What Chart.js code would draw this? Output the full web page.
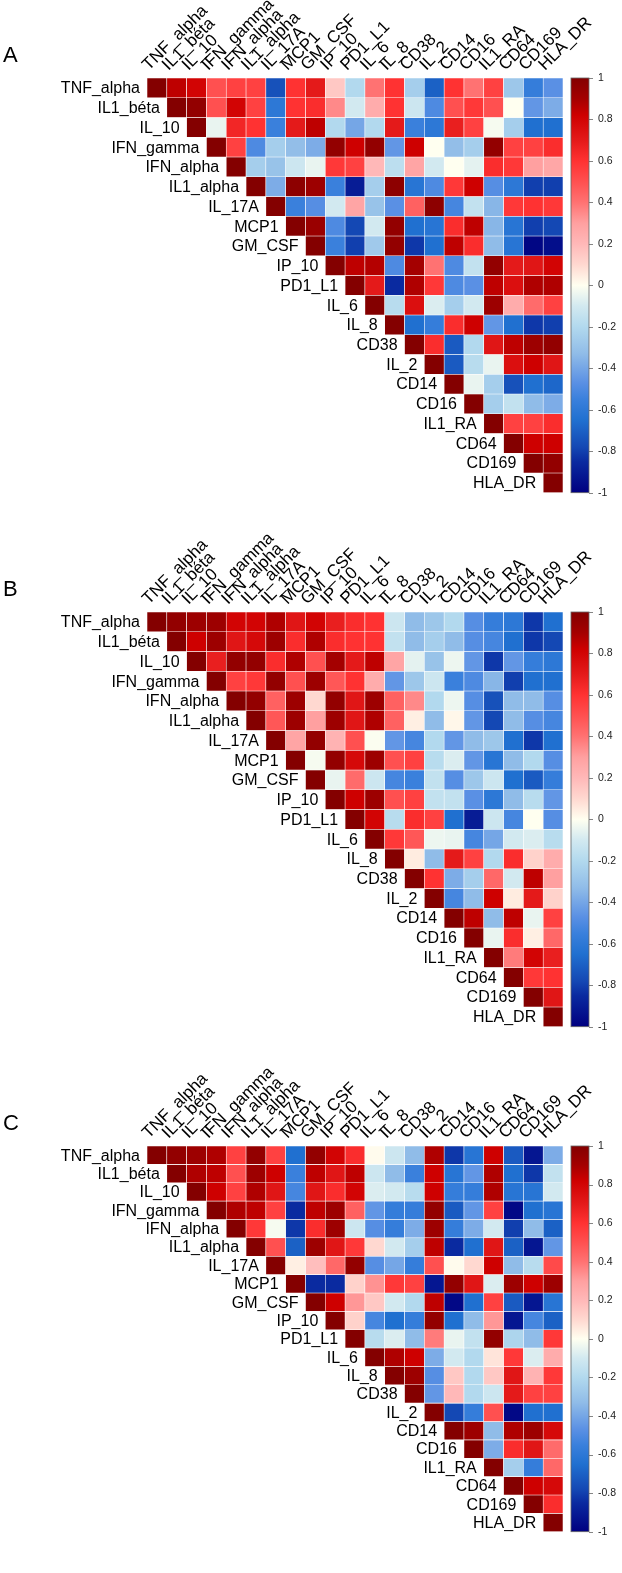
<!DOCTYPE html>
<html>
<head>
<meta charset="utf-8">
<script src="https://cdn.jsdelivr.net/npm/chart.js@4.4.1/dist/chart.umd.min.js"></script>
<style>
  body { margin: 0; background: #fff; }
  #wrap { position: relative; width: 622px; height: 1573px; }
  canvas { position: absolute; left: 0; }
</style>
</head>
<body>
<div id="wrap">
  <canvas id="panel-a" width="622" height="534" style="top:0px"></canvas>
  <canvas id="panel-b" width="622" height="534" style="top:534px"></canvas>
  <canvas id="panel-c" width="622" height="505" style="top:1068px"></canvas>
</div>
<script>
"use strict";

var variables = ["TNF_alpha", "IL1_béta", "IL_10", "IFN_gamma", "IFN_alpha", "IL1_alpha", "IL_17A",
  "MCP1", "GM_CSF", "IP_10", "PD1_L1", "IL_6", "IL_8", "CD38", "IL_2", "CD14", "CD16",
  "IL1_RA", "CD64", "CD169", "HLA_DR"];

var colorbarTicks = [1, 0.8, 0.6, 0.4, 0.2, 0, -0.2, -0.4, -0.6, -0.8, -1];

// each row starts at the diagonal (row i holds columns i..20)
var corrA = [
  [1, 0.85, 0.8, 0.5, 0.55, 0.55, -0.75, 0.6, 0.7, 0.15, -0.2, 0.4, 0.6, -0.25, -0.7, 0.6, 0.4, 0.55, -0.28, -0.57, -0.47],
  [1, 0.95, 0.5, 0.8, 0.55, -0.6, 0.6, 0.62, 0.35, -0.1, 0.25, 0.6, -0.12, -0.5, 0.5, 0.58, 0.5, 0, -0.45, -0.38],
  [1, -0.05, 0.65, 0.6, -0.55, 0.7, 0.85, -0.2, -0.4, -0.2, 0.7, -0.55, -0.6, 0.68, 0.55, -0.02, -0.25, -0.65, -0.65],
  [1, 0.55, -0.5, -0.25, -0.32, -0.38, 0.95, 0.82, 0.95, -0.45, 0.82, 0, -0.32, -0.25, 0.95, 0.55, 0.55, 0.62],
  [1, -0.25, -0.3, -0.12, -0.05, 0.58, 0.55, 0.2, -0.17, 0.28, -0.1, 0, -0.06, 0.62, 0.58, 0.3, 0.27],
  [1, -0.38, 0.97, 0.92, -0.55, -0.9, -0.25, 0.97, -0.62, -0.5, 0.58, 0.82, -0.48, -0.6, -0.8, -0.8],
  [1, -0.55, -0.48, -0.1, 0.28, -0.3, -0.47, 0.45, 0.97, -0.52, -0.15, -0.35, 0.58, 0.6, 0.58],
  [1, 0.93, -0.5, -0.78, -0.1, 0.95, -0.65, -0.62, 0.62, 0.85, -0.35, -0.62, -0.8, -0.78],
  [1, -0.55, -0.8, -0.27, 0.95, -0.82, -0.65, 0.85, 0.62, -0.33, -0.62, -0.98, -0.95],
  [1, 0.85, 0.87, -0.5, 0.9, 0.4, -0.5, -0.15, 0.95, 0.7, 0.72, 0.8],
  [1, 0.7, -0.85, 0.88, 0.58, -0.5, -0.47, 0.85, 0.75, 0.88, 0.88],
  [1, -0.18, 0.75, -0.08, -0.25, -0.1, 0.92, 0.25, 0.42, 0.55],
  [1, -0.65, -0.57, 0.62, 0.82, -0.45, -0.65, -0.82, -0.8],
  [1, 0.62, -0.72, -0.2, 0.72, 0.85, 0.92, 0.95],
  [1, -0.72, -0.18, -0.05, 0.75, 0.82, 0.72],
  [1, -0.05, -0.25, -0.75, -0.65, -0.68],
  [1, -0.25, -0.15, -0.33, -0.38],
  [1, 0.55, 0.55, 0.62],
  [1, 0.82, 0.82],
  [1, 0.95],
  [1]
];

var corrB = [
  [1, 0.95, 0.92, 0.92, 0.8, 0.8, 0.88, 0.72, 0.8, 0.68, 0.62, 0.6, -0.12, -0.33, -0.28, -0.2, -0.48, -0.57, -0.6, -0.82, -0.65],
  [1, 0.82, 0.92, 0.72, 0.78, 0.92, 0.62, 0.88, 0.62, 0.6, 0.6, -0.15, -0.33, -0.25, -0.33, -0.48, -0.52, -0.65, -0.82, -0.78],
  [1, 0.68, 0.95, 0.95, 0.62, 0.88, 0.5, 0.9, 0.7, 0.85, 0.28, -0.06, -0.3, -0.04, -0.45, -0.82, -0.45, -0.57, -0.6],
  [1, 0.55, 0.58, 0.95, 0.5, 0.92, 0.48, 0.6, 0.25, -0.45, -0.28, -0.12, -0.55, -0.5, -0.35, -0.8, -0.65, -0.65],
  [1, 0.95, 0.45, 0.92, 0.1, 0.95, 0.72, 0.92, 0.45, 0.35, -0.2, -0.04, -0.48, -0.75, -0.33, -0.33, -0.48],
  [1, 0.48, 0.92, 0.3, 0.92, 0.72, 0.88, 0.45, 0.04, -0.33, 0.02, -0.45, -0.78, -0.33, -0.48, -0.52],
  [1, 0.28, 0.95, 0.22, 0.5, -0.01, -0.45, -0.52, -0.2, -0.45, -0.33, -0.28, -0.65, -0.82, -0.65],
  [1, -0.02, 0.95, 0.78, 0.92, 0.5, 0.55, -0.18, -0.08, -0.45, -0.62, -0.33, -0.2, -0.48],
  [1, -0.05, 0.42, -0.12, -0.52, -0.55, -0.15, -0.48, -0.28, -0.12, -0.65, -0.72, -0.57],
  [1, 0.82, 0.92, 0.5, 0.55, -0.15, -0.15, -0.47, -0.6, -0.33, -0.18, -0.45],
  [1, 0.8, -0.18, 0.62, 0.55, -0.65, -0.9, -0.12, -0.52, 0, -0.48],
  [1, 0.58, 0.48, -0.04, -0.05, -0.52, -0.4, -0.1, -0.08, -0.18],
  [1, 0.05, -0.33, 0.7, 0.55, -0.2, 0.62, 0.12, 0.25],
  [1, 0.6, -0.38, -0.25, 0.43, -0.1, 0.85, 0.3],
  [1, -0.52, -0.33, 0.82, 0.05, 0.7, 0.12],
  [1, 0.85, -0.33, 0.85, -0.05, 0.55],
  [1, -0.05, 0.62, 0.04, 0.43],
  [1, 0.38, 0.8, 0.68],
  [1, 0.58, 0.6],
  [1, 0.72],
  [1]
];

var corrC = [
  [1, 0.95, 0.92, 0.88, 0.55, 0.95, 0.55, -0.65, 0.95, 0.8, 0.62, 0.01, -0.12, -0.33, 0.88, -0.82, -0.62, 0.82, -0.72, -0.92, -0.38],
  [1, 0.88, 0.85, 0.5, 0.92, 0.82, -0.55, 0.85, 0.72, 0.85, -0.12, -0.33, -0.55, 0.82, -0.62, -0.45, 0.88, -0.65, -0.82, -0.15],
  [1, 0.82, 0.55, 0.88, 0.72, -0.52, 0.72, 0.62, 0.8, -0.08, -0.1, -0.18, 0.82, -0.57, -0.57, 0.88, -0.62, -0.62, -0.1],
  [1, 0.88, 0.85, 0.55, -0.85, 0.85, 0.92, 0.45, -0.45, -0.57, -0.57, 0.95, -0.72, -0.45, 0.55, -0.97, -0.65, -0.62],
  [1, 0.58, -0.02, -0.82, 0.62, 0.92, -0.12, -0.48, -0.57, -0.38, 0.92, -0.57, -0.38, -0.1, -0.8, -0.33, -0.7],
  [1, 0.5, -0.7, 0.92, 0.72, 0.58, 0.1, -0.1, -0.25, 0.85, -0.85, -0.65, 0.72, -0.7, -0.92, -0.45],
  [1, 0.04, 0.18, 0.43, 0.95, -0.48, -0.4, -0.57, 0.5, 0.01, 0.1, 0.82, -0.33, -0.18, 0.52],
  [1, -0.85, -0.85, 0.12, 0.33, 0.58, 0.55, -0.92, 0.95, 0.72, -0.08, 0.92, 0.82, 0.92],
  [1, 0.82, 0.32, 0.15, -0.1, -0.2, 0.85, -0.97, -0.65, 0.55, -0.72, -0.92, -0.62],
  [1, 0.12, -0.52, -0.65, -0.57, 0.95, -0.65, -0.33, 0.32, -0.92, -0.52, -0.7],
  [1, -0.18, -0.08, -0.33, 0.38, -0.05, -0.15, 0.95, -0.22, -0.33, 0.58],
  [1, 0.88, 0.82, -0.38, -0.1, -0.2, 0.07, 0.58, -0.08, 0.25],
  [1, 0.92, -0.48, 0.15, -0.2, 0.15, 0.72, 0.22, 0.58],
  [1, -0.45, 0.2, -0.2, -0.12, 0.7, 0.55, 0.55],
  [1, -0.78, -0.57, 0.5, -0.97, -0.65, -0.65],
  [1, 0.92, -0.33, 0.88, 0.92, 0.78],
  [1, -0.38, 0.62, 0.72, 0.42],
  [1, -0.25, -0.57, 0.43],
  [1, 0.82, 0.78],
  [1, 0.62],
  [1]
];

// blue - ivory - red ramp like the original colour key
var colorStops = [
  [-1, "#000080"], [-0.85, "#0A2AA0"], [-0.78, "#1448B4"], [-0.65, "#2070D0"],
  [-0.55, "#3A80DC"], [-0.47, "#5A90E4"], [-0.33, "#90BCE8"], [-0.2, "#B2D9EE"],
  [-0.1, "#D2E9F0"], [0, "#FFFFF0"], [0.1, "#FFD8D0"], [0.2, "#FFB8B8"],
  [0.3, "#FFA0A0"], [0.4, "#FF7272"], [0.5, "#FF5050"], [0.6, "#FF3232"],
  [0.7, "#E41A1A"], [0.82, "#CE0000"], [0.9, "#A40000"], [0.96, "#900000"], [1, "#840000"]
];

var FONT = '"Liberation Sans", Arial, sans-serif';

function hexToRgb(h) {
  return [parseInt(h.substr(1, 2), 16), parseInt(h.substr(3, 2), 16), parseInt(h.substr(5, 2), 16)];
}

function corrColor(v) {
  for (var k = 1; k < colorStops.length; k++) {
    if (v <= colorStops[k][0]) {
      var a = colorStops[k - 1], b = colorStops[k];
      var t = (v - a[0]) / (b[0] - a[0]);
      var ca = hexToRgb(a[1]), cb = hexToRgb(b[1]);
      return "rgb(" + Math.round(ca[0] + (cb[0] - ca[0]) * t) + "," +
        Math.round(ca[1] + (cb[1] - ca[1]) * t) + "," +
        Math.round(ca[2] + (cb[2] - ca[2]) * t) + ")";
    }
  }
  return colorStops[colorStops.length - 1][1];
}

function buildDatasets(corr) {
  var sets = [];
  for (var i = 0; i < corr.length; i++) {
    var data = [], colors = [];
    for (var j = 0; j < variables.length; j++) {
      if (j < i) {
        data.push(null);
        colors.push("rgba(0,0,0,0)");
      } else {
        data.push([i, i + 1]);
        colors.push(corrColor(corr[i][j - i]));
      }
    }
    sets.push({
      data: data,
      backgroundColor: colors,
      borderColor: "#ffffff",
      borderWidth: 0.6,
      borderSkipped: false,
      grouped: false,
      barPercentage: 1,
      categoryPercentage: 1
    });
  }
  return sets;
}

// row labels next to the diagonal, colour key and panel letter
var panelDecor = {
  id: "panelDecor",
  afterDraw: function(chart, args, opts) {
    var ctx = chart.ctx;
    var xs = chart.scales.x, ys = chart.scales.y, key = chart.scales.key;
    var half = (xs.getPixelForValue(1) - xs.getPixelForValue(0)) / 2;
    ctx.save();

    ctx.fillStyle = "#000";
    ctx.font = "16px " + FONT;
    ctx.textAlign = "right";
    ctx.textBaseline = "middle";
    for (var i = 0; i < variables.length; i++) {
      ctx.fillText(variables[i], xs.getPixelForValue(i) - half - 7, ys.getPixelForValue(i + 0.5) + 1);
    }

    var top = key.getPixelForValue(1), bottom = key.getPixelForValue(-1);
    var x0 = chart.chartArea.right + 8, w = 18;
    var grad = ctx.createLinearGradient(0, top, 0, bottom);
    for (var k = colorStops.length - 1; k >= 0; k--) {
      grad.addColorStop((1 - colorStops[k][0]) / 2, colorStops[k][1]);
    }
    ctx.fillStyle = grad;
    ctx.fillRect(x0, top, w, bottom - top);
    ctx.strokeStyle = "#666";
    ctx.lineWidth = 0.8;
    ctx.strokeRect(x0, top, w, bottom - top);
    ctx.beginPath();
    colorbarTicks.forEach(function(t) {
      var y = Math.round(key.getPixelForValue(t)) + 0.5;
      ctx.moveTo(x0 + w, y);
      ctx.lineTo(x0 + w + 4, y);
    });
    ctx.stroke();

    ctx.fillStyle = "#000";
    ctx.font = "22px " + FONT;
    ctx.textAlign = "left";
    ctx.textBaseline = "middle";
    ctx.fillText(opts.letter, 3, 56);
    ctx.restore();
  }
};

function drawPanel(id, corr, letter) {
  var canvas = document.getElementById(id);
  var bottomPad = canvas.height - 495;
  return new Chart(canvas.getContext("2d"), {
    type: "bar",
    data: { labels: variables, datasets: buildDatasets(corr) },
    plugins: [panelDecor],
    options: {
      responsive: false,
      animation: false,
      events: [],
      layout: { padding: { left: 147, top: 0, right: 0, bottom: bottomPad } },
      plugins: {
        legend: { display: false },
        tooltip: { enabled: false },
        panelDecor: { letter: letter }
      },
      scales: {
        x: {
          type: "category",
          position: "top",
          grid: { display: false, drawTicks: false },
          border: { display: false },
          ticks: {
            autoSkip: false,
            minRotation: 45,
            maxRotation: 45,
            padding: 3,
            labelOffset: 3,
            color: "#000",
            font: { family: FONT, size: 17 }
          },
          afterFit: function(s) { s.height = 78; }
        },
        y: { type: "linear", min: 0, max: 21, reverse: true, display: false },
        key: {
          type: "linear",
          position: "right",
          min: -1,
          max: 1,
          grid: { display: false, drawTicks: false },
          border: { display: false },
          afterBuildTicks: function(s) {
            s.ticks = colorbarTicks.map(function(v) { return { value: v }; });
          },
          ticks: {
            padding: 35,
            color: "#222",
            font: { family: FONT, size: 10.5 },
            callback: function(v) { return String(Math.round(v * 10) / 10); }
          },
          afterFit: function(s) { s.width = 59; }
        }
      }
    }
  });
}

drawPanel("panel-a", corrA, "A");
drawPanel("panel-b", corrB, "B");
drawPanel("panel-c", corrC, "C");
</script>
</body>
</html>
